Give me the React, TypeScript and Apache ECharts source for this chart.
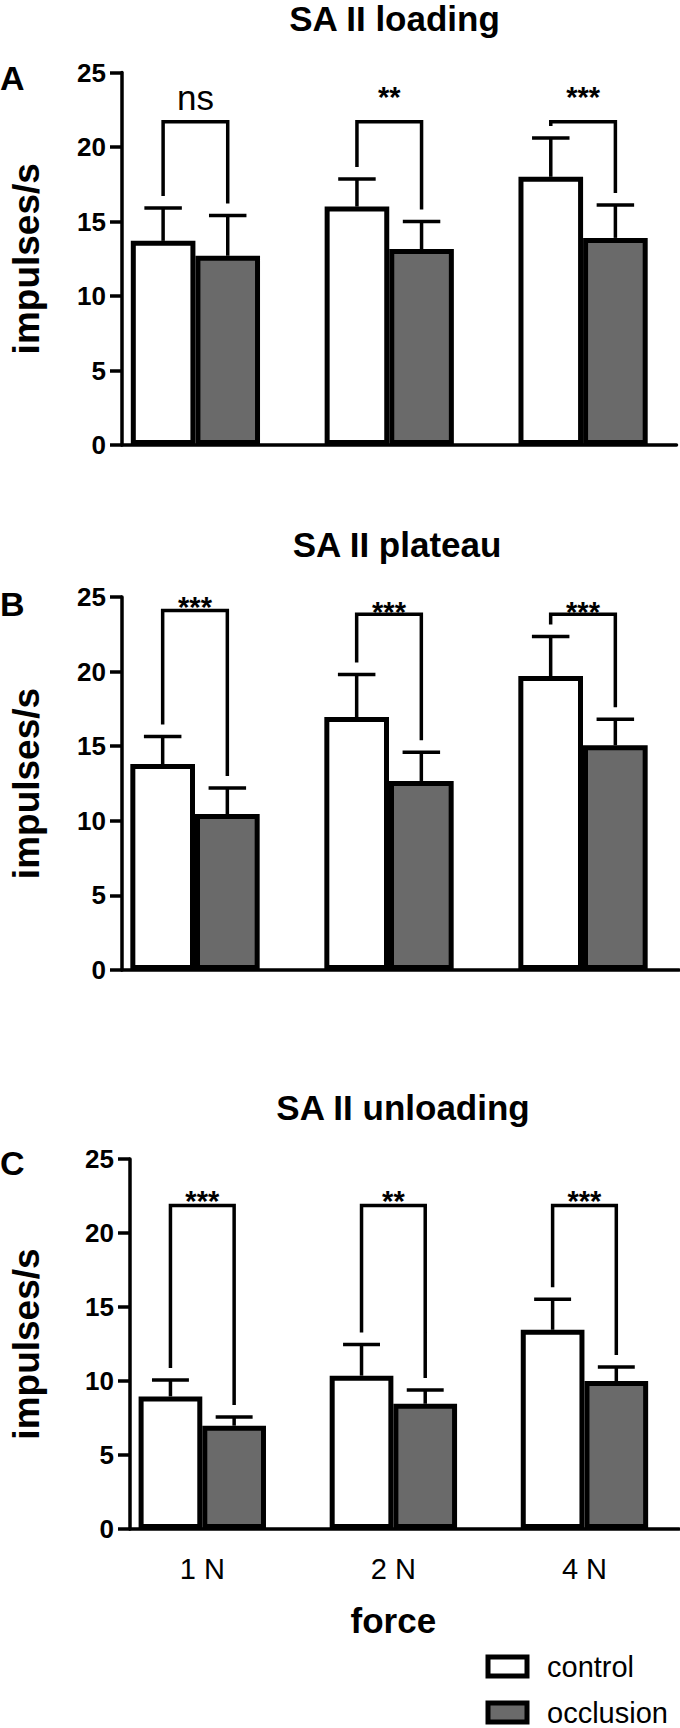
import React, { useEffect, useRef } from 'react';
import * as echarts from 'echarts';

const FONT = '"Liberation Sans", Arial, Helvetica, sans-serif';

// ---- data ----
const categories = ['1 N', '2 N', '4 N'];
const seriesNames = ['control', 'occlusion'];
const panelTitles = ['SA II loading', 'SA II plateau', 'SA II unloading'];
const panelLetters = ['A', 'B', 'C'];
const yAxisName = 'impulses/s';
const xAxisName = 'force';
const yMax = 25;
const yInterval = 5;

// SA II loading
const loadingControl = [13.7, 16.0, 18.0];
const loadingControlSem = [2.2, 1.85, 2.6];
const loadingOcclusion = [12.7, 13.15, 13.9];
const loadingOcclusionSem = [2.7, 1.85, 2.2];
const loadingBracket = [21.7, 21.7, 21.7];
const loadingSigY = [23.35, 23.35, 23.35];
const loadingSig = ['ns', '**', '***'];

// SA II plateau
const plateauControl = [13.8, 16.95, 19.7];
const plateauControlSem = [1.85, 2.85, 2.65];
const plateauOcclusion = [10.45, 12.67, 15.06];
const plateauOcclusionSem = [1.75, 1.93, 1.74];
const plateauBracket = [24.1, 23.85, 23.85];
const plateauSigY = [24.33, 24.0, 24.0];
const plateauSig = ['***', '***', '***'];

// SA II unloading
const unloadingControl = [8.96, 10.36, 13.46];
const unloadingControlSem = [1.1, 2.1, 2.07];
const unloadingOcclusion = [6.98, 8.46, 10.0];
const unloadingOcclusionSem = [0.59, 0.94, 0.95];
const unloadingBracket = [21.85, 21.85, 21.85];
const unloadingSigY = [22.16, 22.16, 22.16];
const unloadingSig = ['***', '**', '***'];

const panels = [
  { control: loadingControl, controlSem: loadingControlSem, occlusion: loadingOcclusion, occlusionSem: loadingOcclusionSem, bracket: loadingBracket, sigY: loadingSigY, sig: loadingSig },
  { control: plateauControl, controlSem: plateauControlSem, occlusion: plateauOcclusion, occlusionSem: plateauOcclusionSem, bracket: plateauBracket, sigY: plateauSigY, sig: plateauSig },
  { control: unloadingControl, controlSem: unloadingControlSem, occlusion: unloadingOcclusion, occlusionSem: unloadingOcclusionSem, bracket: unloadingBracket, sigY: unloadingSigY, sig: unloadingSig },
];

// ---- layout (pixels) ----
const layout = [
  { axisLeft: 116, axisRight: 676.5, top: 72.5, bottom: 445, barsLeft: 98.5, barsWidth: 594, titleX: 394.5, titleY: 18, letterY: 78, nameGap: 77 },
  { axisLeft: 116, axisRight: 679, top: 597, bottom: 970, barsLeft: 98, barsWidth: 600, titleX: 397, titleY: 544, letterY: 604, nameGap: 77 },
  { axisLeft: 123, axisRight: 679, top: 1159, bottom: 1529, barsLeft: 106.75, barsWidth: 589.5, titleX: 403, titleY: 1107, letterY: 1163, nameGap: 85 },
];

const LEG_GAP = 12;
const BLACK = '#000';
const GREY = '#6a6a6a';
const LINE_W = 3.5;

function errRender(side: number) {
  return (params: any, api: any) => {
    const cat = api.value(0);
    const band = api.size([1, 0])[0];
    const bw = band / 3;
    const x = api.coord([cat, 0])[0] + (side * bw) / 2;
    const y0 = api.coord([cat, api.value(1)])[1];
    const y1 = api.coord([cat, api.value(2)])[1];
    const cap = bw * 0.58;
    return {
      type: 'group',
      children: [
        { type: 'line', shape: { x1: x, y1: y0, x2: x, y2: y1 }, style: { stroke: BLACK, lineWidth: LINE_W } },
        { type: 'line', shape: { x1: x - cap / 2, y1: y1, x2: x + cap / 2, y2: y1 }, style: { stroke: BLACK, lineWidth: LINE_W } },
      ],
    };
  };
}

function bracketRender(sig: string[]) {
  return (params: any, api: any) => {
    const i = params.dataIndex;
    const cat = api.value(0);
    const band = api.size([1, 0])[0];
    const half = band / 6;
    const cx = api.coord([cat, 0])[0];
    const yTop = api.coord([cat, api.value(1)])[1];
    const yL = api.coord([cat, api.value(2)])[1] - LEG_GAP;
    const yR = api.coord([cat, api.value(3)])[1] - LEG_GAP;
    const yLab = api.coord([cat, api.value(4)])[1];
    const label = sig[i];
    const star = label.charAt(0) === '*';
    return {
      type: 'group',
      children: [
        {
          type: 'polyline',
          shape: { points: [[cx - half, yL], [cx - half, yTop], [cx + half, yTop], [cx + half, yR]] },
          style: { stroke: BLACK, lineWidth: LINE_W, fill: 'none' },
        },
        {
          type: 'text',
          x: cx,
          y: yLab,
          style: {
            text: label,
            fill: BLACK,
            fontSize: star ? 29 : 35,
            fontWeight: star ? 'bold' : 'normal',
            fontFamily: FONT,
            align: 'center',
            verticalAlign: 'middle',
            textAlign: 'center',
            textVerticalAlign: 'middle',
          },
        },
      ],
    };
  };
}

function buildOption() {
  const grid: any[] = [];
  const xAxis: any[] = [];
  const yAxis: any[] = [];
  const series: any[] = [];
  const graphics: any[] = [];

  panels.forEach((pd, p) => {
    const L = layout[p];
    const h = L.bottom - L.top;
    const gA = 2 * p;
    const gB = 2 * p + 1;
    grid.push({ left: L.axisLeft, top: L.top, width: L.axisRight - L.axisLeft, height: h });
    grid.push({ left: L.barsLeft, top: L.top, width: L.barsWidth, height: h });

    xAxis.push({
      gridIndex: gA, type: 'value', min: 0, max: 1,
      axisLine: { show: true, onZero: false, lineStyle: { color: BLACK, width: LINE_W } },
      axisTick: { show: false }, axisLabel: { show: false }, splitLine: { show: false },
    });
    yAxis.push({
      gridIndex: gA, type: 'value', min: 0, max: yMax, interval: yInterval,
      axisLine: { show: true, lineStyle: { color: BLACK, width: LINE_W } },
      axisTick: { show: true, length: 12, lineStyle: { color: BLACK, width: LINE_W } },
      axisLabel: { color: BLACK, fontWeight: 'bold', fontSize: 26, fontFamily: FONT, margin: 16 },
      splitLine: { show: false },
      name: yAxisName, nameLocation: 'middle', nameGap: L.nameGap, nameRotate: 90,
      nameTextStyle: { color: BLACK, fontWeight: 'bold', fontSize: 37, fontFamily: FONT },
    });
    xAxis.push({
      gridIndex: gB, type: 'category', data: categories,
      axisLine: { show: false }, axisTick: { show: false }, splitLine: { show: false },
      axisLabel: { show: p === 2, color: BLACK, fontSize: 29, fontFamily: FONT, margin: 25 },
      name: p === 2 ? xAxisName : '', nameLocation: 'middle', nameGap: 74,
      nameTextStyle: { color: BLACK, fontWeight: 'bold', fontSize: 35, fontFamily: FONT },
    });
    yAxis.push({ gridIndex: gB, type: 'value', min: 0, max: yMax, show: false });

    series.push({
      type: 'bar', name: seriesNames[0], xAxisIndex: gB, yAxisIndex: gB, data: pd.control,
      barWidth: '33.333%', barGap: '0%', z: 2,
      itemStyle: { color: '#ffffff', borderColor: BLACK, borderWidth: 5 },
    });
    series.push({
      type: 'bar', name: seriesNames[1], xAxisIndex: gB, yAxisIndex: gB, data: pd.occlusion,
      barWidth: '33.333%', barGap: '0%', z: 2,
      itemStyle: { color: GREY, borderColor: BLACK, borderWidth: 5 },
    });
    series.push({
      type: 'custom', name: 'err-c' + p, xAxisIndex: gB, yAxisIndex: gB, z: 4, silent: true,
      renderItem: errRender(-1),
      data: pd.control.map((v, i) => [i, v, v + pd.controlSem[i]]),
    });
    series.push({
      type: 'custom', name: 'err-o' + p, xAxisIndex: gB, yAxisIndex: gB, z: 4, silent: true,
      renderItem: errRender(1),
      data: pd.occlusion.map((v, i) => [i, v, v + pd.occlusionSem[i]]),
    });
    series.push({
      type: 'custom', name: 'sig' + p, xAxisIndex: gB, yAxisIndex: gB, z: 5, silent: true,
      renderItem: bracketRender(pd.sig),
      data: categories.map((_, i) => [
        i, pd.bracket[i],
        pd.control[i] + pd.controlSem[i],
        pd.occlusion[i] + pd.occlusionSem[i],
        pd.sigY[i],
      ]),
    });

    graphics.push({
      type: 'text', x: L.titleX, y: L.titleY,
      style: { text: panelTitles[p], fill: BLACK, fontSize: 35, fontWeight: 'bold', fontFamily: FONT, align: 'center', verticalAlign: 'middle', textAlign: 'center', textVerticalAlign: 'middle' },
    });
    graphics.push({
      type: 'text', x: 0, y: L.letterY,
      style: { text: panelLetters[p], fill: BLACK, fontSize: 34, fontWeight: 'bold', fontFamily: FONT, align: 'left', verticalAlign: 'middle', textAlign: 'left', textVerticalAlign: 'middle' },
    });
  });

  return {
    animation: false,
    backgroundColor: '#ffffff',
    grid,
    xAxis,
    yAxis,
    series,
    graphic: { elements: graphics },
    legend: {
      data: seriesNames,
      orient: 'vertical',
      left: 485.5,
      top: 1652,
      width: 190,
      height: 120,
      padding: 0,
      itemWidth: 39,
      itemHeight: 19,
      itemGap: 17,
      icon: 'rect',
      selectedMode: false,
      itemStyle: { borderWidth: 5, borderColor: BLACK },
      textStyle: { fontSize: 29, color: BLACK, fontFamily: FONT, padding: [0, 0, 0, 15] },
    },
  };
}

export default function App() {
  const ref = useRef<HTMLDivElement>(null);
  useEffect(() => {
    document.body.style.margin = '0';
    const chart = echarts.init(ref.current as HTMLDivElement, null, { renderer: 'svg' });
    chart.setOption(buildOption() as any);
    return () => chart.dispose();
  }, []);
  return <div ref={ref} style={{ width: 680, height: 1728 }} />;
}
